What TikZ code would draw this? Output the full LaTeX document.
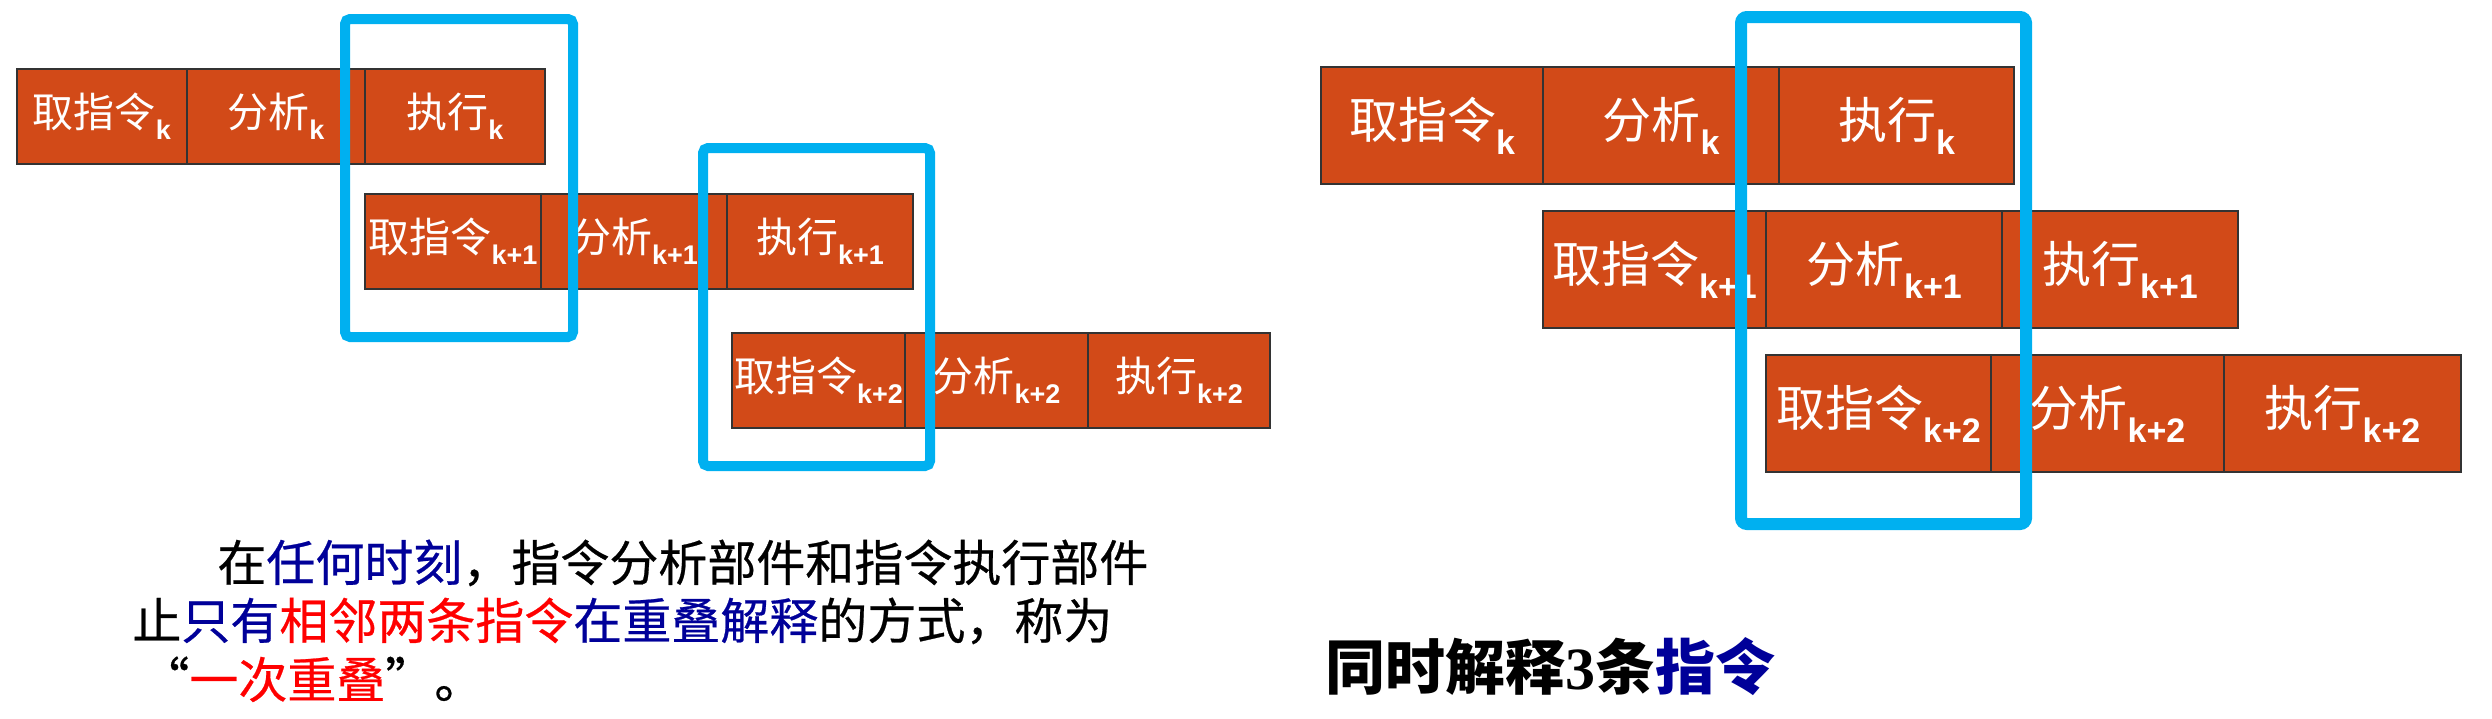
\documentclass[tikz,border=0pt]{standalone}
\usepackage{fontspec}
\newfontfamily\cjk{Noto Sans CJK SC}
\newfontfamily\cjkp{Noto Sans CJK SC}[FakeBold=0.5]
\newfontfamily\subf{Liberation Sans}
\newfontfamily\serifb{Liberation Serif}
\definecolor{cellfill}{RGB}{210,74,24}
\definecolor{frameblue}{RGB}{0,176,240}
\definecolor{navytxt}{RGB}{0,0,153}
\definecolor{redtxt}{RGB}{255,0,0}
\newcommand\lblL[2]{\makebox[0pt][c]{\fontsize{20.5}{20.5}\selectfont\cjk #1\raisebox{-0.3em}{\fontsize{13.5}{13.5}\selectfont\subf\bfseries #2}}}
\newcommand\lblR[2]{\makebox[0pt][c]{\fontsize{24.5}{24.5}\selectfont\cjk #1\raisebox{-0.33em}{\fontsize{17}{17}\selectfont\subf\bfseries #2}}}
\begin{document}
\begin{tikzpicture}[x=0.5pt,y=-0.5pt,
  cellbase/.style={draw=black!80, line width=1pt, fill=cellfill, text=white,
    anchor=north west, inner sep=0pt},
  cellL/.style={cellbase, minimum height=47.5pt},
  cellR/.style={cellbase, minimum height=58.5pt},
  frameL/.style={draw=frameblue, line width=5pt, rounded corners=2.5pt},
  frameR/.style={draw=frameblue, line width=6pt, rounded corners=3pt},
  para/.style={anchor=base west, inner sep=0pt, font=\fontsize{24.5}{24.5}\selectfont\cjkp}]
\useasboundingbox (0,0) rectangle (2492,718);
% ---------- left diagram ----------
\node[cellL, minimum width=85pt] (l1a) at (16,68) {\lblL{取指令}{k}};
\node[cellL, minimum width=89pt] (l1b) at (186,68) {\lblL{分析}{k}};
\node[cellL, minimum width=90pt] (l1c) at (364,68) {\lblL{执行}{k}};
\node[cellL, minimum width=88pt] (l2a) at (364,193) {\lblL{取指令}{k+1}};
\node[cellL, minimum width=93pt] (l2b) at (540,193) {\lblL{分析}{k+1}};
\node[cellL, minimum width=93pt] (l2c) at (726,193) {\lblL{执行}{k+1}};
\node[cellL, minimum width=86.5pt] (l3a) at (731,332) {\lblL{取指令}{k+2}};
\node[cellL, minimum width=91.5pt] (l3b) at (904,332) {\lblL{分析}{k+2}};
\node[cellL, minimum width=91pt] (l3c) at (1087,332) {\lblL{执行}{k+2}};
\draw[frameL] (345,19) rectangle (573,337);
\draw[frameL] (703,148) rectangle (930,466);
% ---------- right diagram ----------
\node[cellR, minimum width=111pt] (r1a) at (1320,66) {\lblR{取指令}{k}};
\node[cellR, minimum width=118pt] (r1b) at (1542,66) {\lblR{分析}{k}};
\node[cellR, minimum width=117.5pt] (r1c) at (1778,66) {\lblR{执行}{k}};
\node[cellR, minimum width=111.5pt] (r2a) at (1542,210) {\lblR{取指令}{k+1}};
\node[cellR, minimum width=118pt] (r2b) at (1765,210) {\lblR{分析}{k+1}};
\node[cellR, minimum width=118pt] (r2c) at (2001,210) {\lblR{执行}{k+1}};
\node[cellR, minimum width=112.5pt] (r3a) at (1765,354) {\lblR{取指令}{k+2}};
\node[cellR, minimum width=116.5pt] (r3b) at (1990,354) {\lblR{分析}{k+2}};
\node[cellR, minimum width=118.5pt] (r3c) at (2223,354) {\lblR{执行}{k+2}};
\draw[frameR] (1741,17) rectangle (2026,524);
% ---------- texts ----------
\node[para] (t1) at (217,581) {在\textcolor{navytxt}{任何时刻}，指令分析部件和指令执行部件};
\node[para] (t2) at (132,639) {止\textcolor{navytxt}{只有}\textcolor{redtxt}{相邻两条指令}\textcolor{navytxt}{在重叠解释}的方式，称为};
\node[para] (t3) at (140,698) {“\textcolor{redtxt}{一次重叠}”。};
\node[anchor=base west, inner sep=0pt, font=\fontsize{30}{30}\selectfont\cjk\bfseries] (t4) at (1325,689)
  {同时解释{\serifb\bfseries 3}条\textcolor{navytxt}{指令}};
\end{tikzpicture}
\end{document}
